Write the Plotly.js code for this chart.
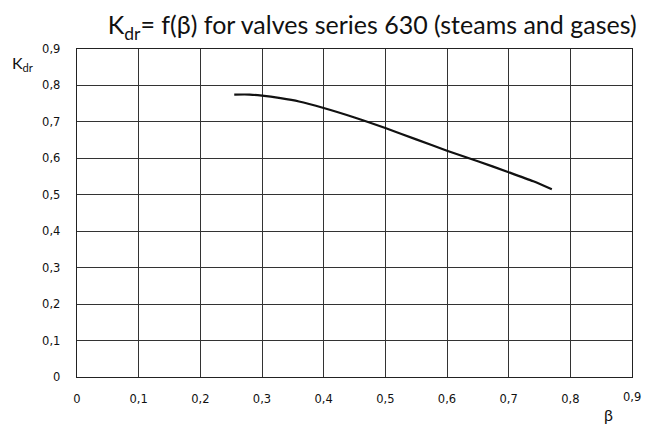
<!DOCTYPE html>
<html>
<head>
<meta charset="utf-8">
<script src="https://cdn.plot.ly/plotly-3.0.1.min.js"></script>
<style>html,body{margin:0;padding:0;background:#fff;}#chart{width:645px;height:428px;}</style>
</head>
<body>
<div id="chart"></div>
<script>
// Curve K_dr = f(beta)
const beta = [0.255, 0.28, 0.30, 0.33, 0.36, 0.40, 0.45, 0.50, 0.55, 0.60, 0.65, 0.70, 0.74, 0.77];
const kdr  = [0.775, 0.775, 0.772, 0.765, 0.756, 0.738, 0.712, 0.683, 0.652, 0.621, 0.592, 0.562, 0.537, 0.515];

const xTickVals = [0, 0.1, 0.2, 0.3, 0.4, 0.5, 0.6, 0.7, 0.8, 0.9];
const xTickText = ["0", "0,1", "0,2", "0,3", "0,4", "0,5", "0,6", "0,7", "0,8", "0,9"];
const yTickVals = [0, 0.1, 0.2, 0.3, 0.4, 0.5, 0.6, 0.7, 0.8, 0.9];
const yTickText = ["0", "0,1", "0,2", "0,3", "0,4", "0,5", "0,6", "0,7", "0,8", "0,9"];

const tickFont = {family: "DejaVu Sans", size: 11.5, color: "#111"};
const lastX = xTickVals.length - 1;

const trace = {
  x: beta, y: kdr, type: "scatter", mode: "lines",
  line: {color: "#111", width: 2.2, shape: "spline", smoothing: 0.6},
  hoverinfo: "skip"
};

const layout = {
  width: 645, height: 428,
  margin: {l: 77, r: 13, t: 49, b: 51},
  paper_bgcolor: "#fff", plot_bgcolor: "#fff",
  showlegend: false,
  title: {
    text: "K<sub>dr</sub>= f(β) for valves series 630 (steams and gases)",
    font: {family: "Lato", size: 25, color: "#111"},
    x: 0.577, xanchor: "center", y: 0.94, yanchor: "middle"
  },
  xaxis: {
    range: [0, 0.9],
    // the last x label is drawn raised (annotation below), as in the reference
    tickvals: xTickVals.slice(0, lastX), ticktext: xTickText.slice(0, lastX),
    showgrid: true, gridcolor: "#333", gridwidth: 1,
    zeroline: false, showline: true, linecolor: "#222", linewidth: 1.3, mirror: true,
    ticks: "", ticklabelstandoff: 11, tickfont: tickFont, fixedrange: true
  },
  yaxis: {
    range: [0, 0.9], tickvals: yTickVals, ticktext: yTickText,
    showgrid: true, gridcolor: "#333", gridwidth: 1,
    zeroline: false, showline: true, linecolor: "#222", linewidth: 1.3, mirror: true,
    ticks: "", ticklabelstandoff: 13, tickfont: tickFont, fixedrange: true
  },
  annotations: [
    {text: xTickText[lastX], xref: "x", yref: "paper", x: xTickVals[lastX], y: -0.035,
     xanchor: "center", yanchor: "top", showarrow: false, font: tickFont},
    {text: "K<sub>dr</sub>", xref: "paper", yref: "paper", x: -0.099, y: 0.955,
     xanchor: "center", yanchor: "middle", showarrow: false,
     font: {family: "Lato", size: 16, color: "#111"}},
    {text: "β", xref: "paper", yref: "paper", x: 0.958, y: -0.113,
     xanchor: "center", yanchor: "middle", showarrow: false,
     font: {family: "Lato", size: 16, color: "#111"}}
  ]
};

Plotly.newPlot("chart", [trace], layout, {staticPlot: true, displayModeBar: false});
</script>
</body>
</html>
